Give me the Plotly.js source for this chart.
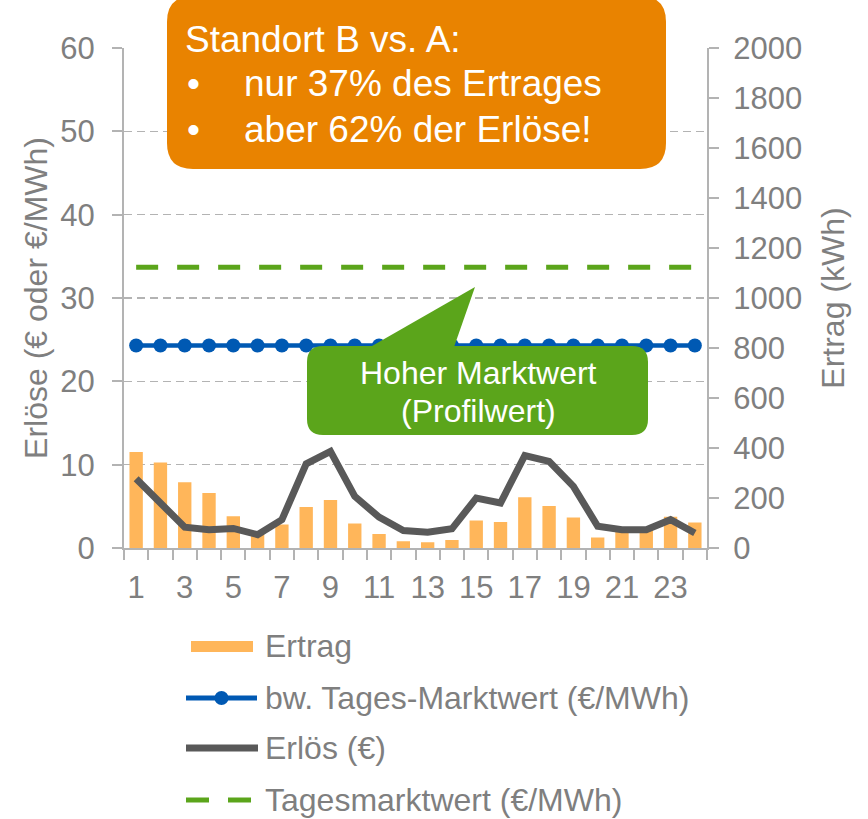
<!DOCTYPE html>
<html>
<head>
<meta charset="utf-8">
<script src="https://cdn.plot.ly/plotly-3.0.1.min.js"></script>
<style>html,body{margin:0;padding:0;background:#fff;}#chart{width:868px;height:819px;}</style>
</head>
<body>
<div id="chart"></div>
<script>
// ---- data ----
const hours = [1,2,3,4,5,6,7,8,9,10,11,12,13,14,15,16,17,18,19,20,21,22,23,24];
const ertrag = [384,342,263,220,127,60,94,164,192,98,56,27,23,32,110,104,203,168,122,42,75,75,125,102];
const erloes = [8.3,5.5,2.5,2.2,2.35,1.6,3.4,10.1,11.6,6.2,3.7,2.1,1.9,2.3,6.0,5.4,11.1,10.4,7.4,2.6,2.2,2.2,3.4,1.8];
const bwTagesMW = [24.3,24.3,24.3,24.3,24.3,24.3,24.3,24.3,24.3,24.3,24.3,24.3,24.3,24.3,24.3,24.3,24.3,24.3,24.3,24.3,24.3,24.3,24.3,24.3];
const tagesMW = [33.7,33.7,33.7,33.7,33.7,33.7,33.7,33.7,33.7,33.7,33.7,33.7,33.7,33.7,33.7,33.7,33.7,33.7,33.7,33.7,33.7,33.7,33.7,33.7];
const xTickVals = [1,3,5,7,9,11,13,15,17,19,21,23];
const xTickText = ['1','3','5','7','9','11','13','15','17','19','21','23'];
const xBoundaries = [0.5,1.5,2.5,3.5,4.5,5.5,6.5,7.5,8.5,9.5,10.5,11.5,12.5,13.5,14.5,15.5,16.5,17.5,18.5,19.5,20.5,21.5,22.5,23.5,24.5];
const seriesNames = ['Ertrag','bw. Tages-Marktwert (€/MWh)','Erlös (€)','Tagesmarktwert (€/MWh)'];

// ---- layout helpers (pixel -> paper) ----
const W=868, H=819, L=124, R=707, T=48, B=548;
const px = p => (p-L)/(R-L);
const py = p => (B-p)/(B-T);
function roundRect(x0,y0,x1,y1,r){
  const P=(x,y)=>px(x).toFixed(5)+','+py(y).toFixed(5);
  return 'M'+P(x0+r,y0)+' L'+P(x1-r,y0)+' Q'+P(x1,y0)+' '+P(x1,y0+r)+
    ' L'+P(x1,y1-r)+' Q'+P(x1,y1)+' '+P(x1-r,y1)+' L'+P(x0+r,y1)+
    ' Q'+P(x0,y1)+' '+P(x0,y1-r)+' L'+P(x0,y0+r)+' Q'+P(x0,y0)+' '+P(x0+r,y0)+' Z';
}
function tri(a,b,c){
  const P=(q)=>px(q[0]).toFixed(5)+','+py(q[1]).toFixed(5);
  return 'M'+P(a)+' L'+P(b)+' L'+P(c)+' Z';
}

const FONT = 'Liberation Sans, Arial, sans-serif';
const GREY = '#7f7f7f';
const AXC = '#b3b3b3';
const C_BAR = '#ffb65a', C_BLUE = '#0059b3', C_DARK = '#595959', C_GREEN = '#5ba51b', C_ORANGE = '#e98300';

const traces = [
  {type:'bar', x:hours, y:ertrag, name:seriesNames[0], marker:{color:C_BAR}, width:0.55, xaxis:'x', yaxis:'y'},
  {type:'scatter', mode:'lines', x:hours, y:tagesMW, name:seriesNames[3], line:{color:C_GREEN, width:5, dash:'22px,19px'}, xaxis:'x', yaxis:'y2'},
  {type:'scatter', mode:'lines+markers', x:hours, y:bwTagesMW, name:seriesNames[1], line:{color:C_BLUE, width:4.5}, marker:{color:C_BLUE, size:14}, xaxis:'x', yaxis:'y2'},
  {type:'scatter', mode:'lines', x:hours, y:erloes, name:seriesNames[2], line:{color:C_DARK, width:7}, xaxis:'x', yaxis:'y2'}
];

const shapes = [
  // orange info box
  {type:'path', xref:'paper', yref:'paper', path:roundRect(167,-4,666,169,26), fillcolor:C_ORANGE, line:{width:0}},
  // green callout
  {type:'path', xref:'paper', yref:'paper', path:tri([365,350],[453,350],[475,287]), fillcolor:C_GREEN, line:{width:0}},
  {type:'path', xref:'paper', yref:'paper', path:roundRect(307,346,648,435,16), fillcolor:C_GREEN, line:{width:0}},
  // custom legend symbols
  {type:'rect', xref:'paper', yref:'paper', x0:px(191), x1:px(253), y0:py(641), y1:py(652), fillcolor:C_BAR, line:{width:0}},
  {type:'line', xref:'paper', yref:'paper', x0:px(186), x1:px(257), y0:py(698), y1:py(698), line:{color:C_BLUE, width:5}},
  {type:'circle', xref:'paper', yref:'paper', x0:px(214.5), x1:px(228.5), y0:py(691), y1:py(705), fillcolor:C_BLUE, line:{width:0}},
  {type:'line', xref:'paper', yref:'paper', x0:px(186), x1:px(258), y0:py(748), y1:py(748), line:{color:C_DARK, width:7}},
  {type:'line', xref:'paper', yref:'paper', x0:px(186), x1:px(209), y0:py(800), y1:py(800), line:{color:C_GREEN, width:5}},
  {type:'line', xref:'paper', yref:'paper', x0:px(228), x1:px(251), y0:py(800), y1:py(800), line:{color:C_GREEN, width:5}}
];

function ann(text,x,y,size,color,anchor){
  return {xref:'paper', yref:'paper', x:px(x), y:py(y), text:text, showarrow:false,
    xanchor:anchor||'left', yanchor:'middle', font:{family:FONT, size:size, color:color}};
}
const annotations = [
  ann('Standort B vs. A:',183,40,37,'#ffffff'),
  ann('•',185,84,37,'#ffffff'),
  ann('nur 37% des Ertrages',242,84,37,'#ffffff'),
  ann('•',185,129,37,'#ffffff'),
  ann('aber 62% der Erlöse!',242,129,37,'#ffffff'),
  ann('Hoher Marktwert',478,373,32,'#ffffff','center'),
  ann('(Profilwert)',478,411,32,'#ffffff','center'),
  ann(seriesNames[0],263,646,32,GREY),
  ann(seriesNames[1],263,698,32,GREY),
  ann(seriesNames[2],263,748,32,GREY),
  ann(seriesNames[3],263,800,32,GREY)
];

const layout = {
  width:W, height:H,
  margin:{l:L, r:W-R, t:T, b:H-B, pad:0},
  paper_bgcolor:'#ffffff', plot_bgcolor:'#ffffff',
  font:{family:FONT, size:31, color:GREY},
  showlegend:false,
  xaxis:{
    range:[0.5,24.5], tickmode:'array', tickvals:xTickVals, ticktext:xTickText,
    ticks:'', ticklabelstandoff:11, showgrid:false, zeroline:false,
    showline:true, linecolor:AXC, linewidth:2,
    tickfont:{family:FONT, size:31, color:GREY},
    minor:{tickmode:'array', tickvals:xBoundaries, ticks:'outside', ticklen:10, tickwidth:2, tickcolor:AXC, showgrid:false}
  },
  yaxis:{
    range:[0,2000], dtick:200, side:'right', showgrid:false, zeroline:false,
    showline:true, linecolor:AXC, linewidth:2, ticks:'outside', ticklen:10, tickwidth:2, tickcolor:AXC,
    ticklabelstandoff:8,
    tickfont:{family:FONT, size:31, color:GREY},
    title:{text:'Ertrag (kWh)', font:{family:FONT, size:32, color:GREY}, standoff:20}
  },
  yaxis2:{
    range:[0,60], dtick:10, side:'left', overlaying:'y', showgrid:true, gridcolor:AXC, gridwidth:1.5, griddash:'8px,5px',
    zeroline:false, showline:true, linecolor:AXC, linewidth:2, ticks:'outside', ticklen:10, tickwidth:2, tickcolor:AXC,
    ticklabelstandoff:11,
    tickfont:{family:FONT, size:31, color:GREY},
    title:{text:'Erlöse (€ oder €/MWh)', font:{family:FONT, size:32, color:GREY}, standoff:3}
  },
  shapes:shapes,
  annotations:annotations
};

Plotly.newPlot('chart', traces, layout, {displayModeBar:false, staticPlot:true});
</script>
</body>
</html>
